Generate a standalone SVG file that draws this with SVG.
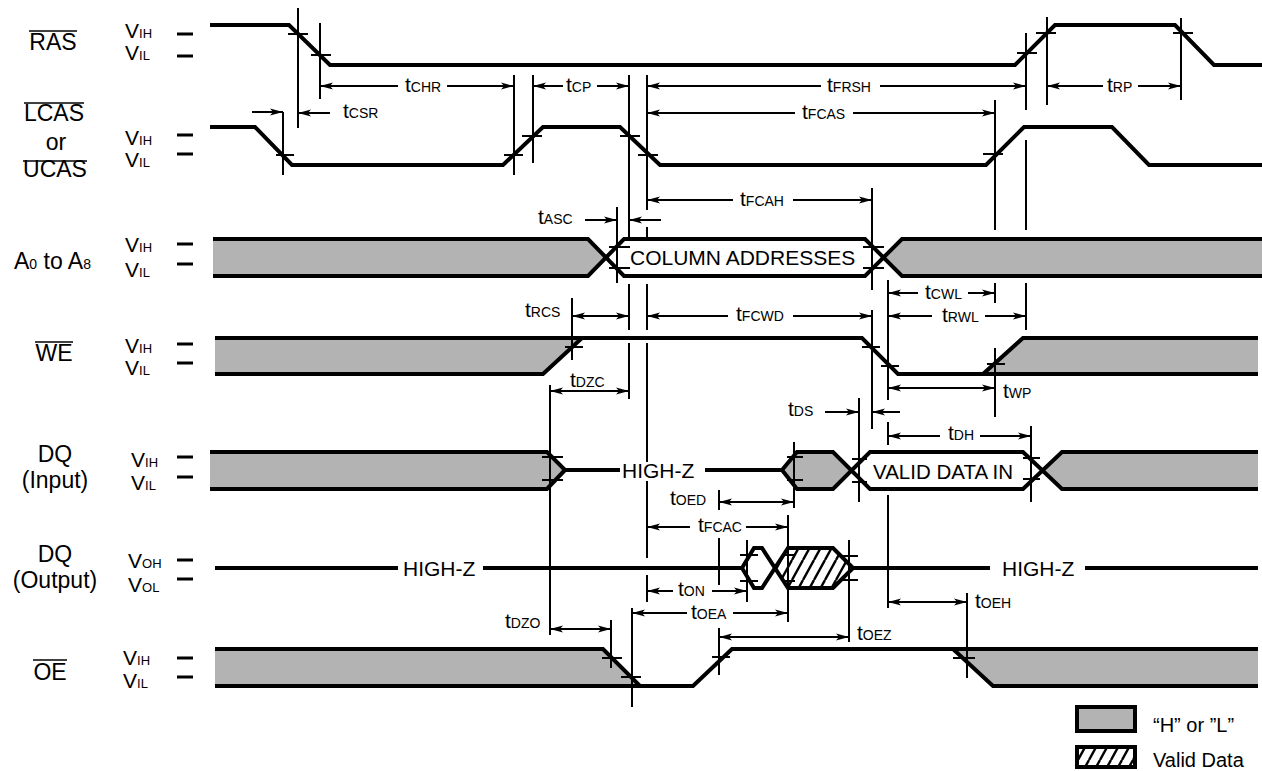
<svg xmlns="http://www.w3.org/2000/svg" width="1262" height="771" viewBox="0 0 1262 771">
<style>
.sig{fill:none;stroke:#000;stroke-width:4;stroke-linejoin:miter;stroke-miterlimit:10}
.th{fill:none;stroke:#000;stroke-width:2}
.dash{fill:none;stroke:#000;stroke-width:3}
.ov{fill:none;stroke:#000;stroke-width:1.6}
.gray{fill:#b3b3b3}
.wh{fill:#fff}
.hat{fill:url(#hatch)}
.ar{fill:none;stroke:#000;stroke-width:2;marker-end:url(#ah)}
.ar2{fill:none;stroke:#000;stroke-width:2;marker-end:url(#ah);marker-start:url(#ah)}
text{font-family:"Liberation Sans",Arial,Helvetica,sans-serif;fill:#000}
.lbl{font-size:23px;text-anchor:middle}
.lbs{font-size:23px}
.t{font-size:21px}
.s{font-size:14px}
.v{font-size:21px}
.vs{font-size:13px}
.big{font-size:21px}
.leg{font-size:20px}
</style>
<defs>
<marker id="ah" markerUnits="userSpaceOnUse" markerWidth="14" markerHeight="8" refX="13" refY="4" orient="auto-start-reverse">
<path d="M0,0.5 L13,4 L0,7.5 L3,4 Z" fill="#000"/>
</marker>
<pattern id="hatch" patternUnits="userSpaceOnUse" width="11" height="20">
<rect width="11" height="20" fill="#fff"/>
<path d="M0,20 L11,0 M-2,3.6 L0,0 M11,20 L13,16.4" stroke="#000" stroke-width="2.4" fill="none"/>
</pattern>
</defs>
<rect width="1262" height="771" fill="#fff"/>

<g id="labels">
<text class="lbl" x="53" y="50">RAS</text><path class="ov" d="M29,31 H77"/>
<text class="lbl" x="54" y="121">LCAS</text><path class="ov" d="M24,103 H84"/>
<text class="lbl" x="56" y="150">or</text>
<text class="lbl" x="55" y="177">UCAS</text><path class="ov" d="M23,161 H87"/>
<text class="lbs" x="14" y="269">A<tspan class="s">0</tspan> to A<tspan class="s">8</tspan></text>
<text class="lbl" x="54" y="361">WE</text><path class="ov" d="M35,342 H73"/>
<text class="lbl" x="55" y="462">DQ</text>
<text class="lbl" x="55" y="488">(Input)</text>
<text class="lbl" x="55" y="562">DQ</text>
<text class="lbl" x="55" y="588">(Output)</text>
<text class="lbl" x="50" y="680">OE</text><path class="ov" d="M33,660 H67"/>

<text class="v" x="125" y="38">V<tspan class="vs">IH</tspan></text>
<text class="v" x="125" y="60">V<tspan class="vs">IL</tspan></text>
<text class="v" x="125" y="145">V<tspan class="vs">IH</tspan></text>
<text class="v" x="125" y="167">V<tspan class="vs">IL</tspan></text>
<text class="v" x="125" y="252">V<tspan class="vs">IH</tspan></text>
<text class="v" x="125" y="277">V<tspan class="vs">IL</tspan></text>
<text class="v" x="125" y="353">V<tspan class="vs">IH</tspan></text>
<text class="v" x="125" y="375">V<tspan class="vs">IL</tspan></text>
<text class="v" x="131" y="467">V<tspan class="vs">IH</tspan></text>
<text class="v" x="131" y="490">V<tspan class="vs">IL</tspan></text>
<text class="v" x="128" y="568">V<tspan class="vs">OH</tspan></text>
<text class="v" x="128" y="592">V<tspan class="vs">OL</tspan></text>
<text class="v" x="123" y="665">V<tspan class="vs">IH</tspan></text>
<text class="v" x="123" y="688">V<tspan class="vs">IL</tspan></text>
<path class="dash" d="M177,34 H193 M177,56 H193 M177,135 H193 M177,154 H193 M177,244 H193 M177,264 H193 M177,344 H193 M177,363 H193 M177,457 H193 M177,477 H193 M177,560 H193 M177,579 H193 M177,658 H193 M177,677 H193"/>
</g>

<g id="ras">
<path class="sig" d="M210,25 H289 L330,65 H1015 L1055,25 H1175 L1214,65 H1262"/>
<path class="th" d="M288,34 h20 M311,55 h20 M1017,53 h20 M1036,33 h20 M1173,33 h20"/>
</g>

<g id="cas">
<path class="sig" d="M210,127 H255 L292,165 H503 L543,127 H620 L660,165 H986 L1024,127 H1112 L1149,165 H1262"/>
<path class="th" d="M276,155 h18 M504,155 h19 M522,136 h20 M620,136 h20 M638,155 h20 M983,154 h20"/>
</g>

<g id="addr">
<polygon class="gray" points="213,239 588,239 606,257.5 588,276 213,276"/>
<polygon class="wh" points="606,257.5 624,239 865,239 883.5,257.5 865,276 624,276"/>
<polygon class="gray" points="883.5,257.5 902,239 1262,239 1262,276 902,276"/>
<path class="sig" d="M213,239 H588 L624,276 H865 L902,239 H1262 M213,276 H588 L624,239 H865 L902,276 H1262"/>
<path class="th" d="M609,247 h21 M609,268 h21 M863,247 h21 M863,268 h21"/>
<text class="big" x="630" y="265">COLUMN ADDRESSES</text>
</g>

<g id="we">
<polygon class="gray" points="215,338 582,338 543,374 215,374"/>
<polygon class="gray" points="983,374 1023,338 1258,338 1258,374"/>
<path class="sig" d="M215,338 H862 L898,374 H1258 M215,374 H543 L582,338 M983,374 L1023,338 H1258"/>
<path class="th" d="M565,347 h18 M862,347 h18 M881,366 h18 M987,364 h18"/>
</g>

<g id="dqin">
<polygon class="gray" points="210,452 547,452 565,470 547,489 210,489"/>
<polygon class="gray" points="782,470 797,452 833,452 851.5,470 833,489 797,489"/>
<polygon class="wh" points="851.5,470 870,452 1023,452 1042.5,470 1023,489 870,489"/>
<polygon class="gray" points="1042.5,470 1062,452 1258,452 1258,489 1062,489"/>
<path class="sig" d="M210,452 H547 L565,470 H620 M210,489 H547 L565,470 M705,470 H782 L797,452 H833 L870,489 H1023 L1062,452 H1258 M782,470 L797,489 H833 L870,452 H1023 L1062,489 H1258"/>
<path class="th" d="M542,457 h21 M542,480 h21 M787,457 h16 M787,480 h16 M852,459 h15 M852,482 h15 M1023,458 h17 M1023,479 h17"/>
<text class="big" x="622" y="478">HIGH-Z</text>
<text class="big" x="873" y="479" style="font-size:20.5px">VALID DATA IN</text>
</g>

<g id="dqout">
<polygon class="hat" points="775,568 788,548 833,548 853,568 833,588 788,588"/>
<path class="sig" d="M215,568 H398 M483,568 H742 L754,548 H762 L788,588 H833 L853,568 H990 M742,568 L754,588 H762 L788,548 H833 L853,568 M1085,568 H1258"/>
<path class="th" d="M740,555 h18 M740,581 h18 M782,555 h13 M782,581 h13 M840,556 h18 M840,580 h18"/>
<text class="big" x="403" y="576">HIGH-Z</text>
<text class="big" x="1002" y="576">HIGH-Z</text>
</g>

<g id="oe">
<polygon class="gray" points="215,649 603,649 640,686 215,686"/>
<polygon class="gray" points="953,649 1258,649 1258,686 993,686"/>
<path class="sig" d="M215,649 H603 L640,686 H693 L732,649 H953 L993,686 H1258 M215,686 H640 M953,649 H1258"/>
<path class="th" d="M602,658 h20 M621,677 h20 M712,657 h18 M953,658 h22"/>
</g>

<g id="legend">
<rect class="gray" x="1077" y="707" width="58" height="24" stroke="#000" stroke-width="4"/>
<text class="leg" x="1153" y="732">“H” or ”L”</text>
<rect class="hat" x="1077" y="747" width="58" height="20" stroke="#000" stroke-width="4"/>
<text class="leg" x="1153" y="767">Valid Data</text>
</g>

<g id="connectors">
<path class="th" d="M298,8 V128 M320,23 V99 M283,112 V175 M514,75 V175 M533,75 V163
M629,75 V237 M629,284 V330 M629,343 V399
M647,75 V210 M647,227 V237 M647,284 V330 M647,343 V462 M647,481 V558 M647,575 V602
M572,298 V360 M617,207 V283 M872,188 V290 M872,310 V429
M888,280 V400 M888,422 V445 M888,495 V608
M995,100 V230 M995,283 V303 M995,348 V417
M1026,33 V110 M1026,140 V230 M1026,283 V330
M1047,17 V105 M1181,18 V100 M550,385 V635 M794,442 V508
M719,490 V510 M719,538 V585 M719,628 V675
M788,515 V622 M747,540 V602 M849,540 V642 M859,398 V502 M1031,426 V502
M632,608 V707 M611,620 V668 M967,593 V678"/>

<path class="ar" d="M398,86 H320"/><path class="ar" d="M447,86 H514"/>
<path class="ar" d="M563,86 H533"/><path class="ar" d="M597,86 H629"/>
<path class="ar" d="M821,86 H647"/><path class="ar" d="M880,86 H1026"/>
<path class="ar" d="M1103,86 H1047"/><path class="ar" d="M1138,86 H1181"/>
<path class="ar" d="M252,112 H283"/><path class="ar" d="M330,113 H298"/>
<path class="ar" d="M795,113 H647"/><path class="ar" d="M853,113 H995"/>
<path class="ar" d="M733,200 H647"/><path class="ar" d="M793,200 H872"/>
<path class="ar" d="M585,220 H617"/><path class="ar" d="M661,220 H629"/>
<path class="ar2" d="M572,316 H629"/>
<path class="ar" d="M728,316 H647"/><path class="ar" d="M793,316 H872"/>
<path class="ar" d="M918,293 H888"/><path class="ar" d="M968,293 H995"/>
<path class="ar" d="M932,316 H888"/><path class="ar" d="M985,316 H1026"/>
<path class="ar2" d="M550,391 H629"/>
<path class="ar2" d="M888,388 H995"/>
<path class="ar" d="M825,412 H859"/><path class="ar" d="M900,412 H872"/>
<path class="ar" d="M940,436 H888"/><path class="ar" d="M980,436 H1031"/>
<path class="ar2" d="M719,502 H794"/>
<path class="ar" d="M690,527 H647"/><path class="ar" d="M746,527 H788"/>
<path class="ar" d="M673,591 H647"/><path class="ar" d="M712,591 H747"/>
<path class="ar" d="M687,613 H632"/><path class="ar" d="M733,613 H788"/>
<path class="ar2" d="M550,629 H611"/>
<path class="ar2" d="M719,637 H849"/>
<path class="ar2" d="M888,602 H967"/>

<text class="t" x="405" y="92">t<tspan class="s">CHR</tspan></text>
<text class="t" x="566" y="92">t<tspan class="s">CP</tspan></text>
<text class="t" x="827" y="92">t<tspan class="s">FRSH</tspan></text>
<text class="t" x="1107" y="92">t<tspan class="s">RP</tspan></text>
<text class="t" x="343" y="118">t<tspan class="s">CSR</tspan></text>
<text class="t" x="802" y="119">t<tspan class="s">FCAS</tspan></text>
<text class="t" x="740" y="206">t<tspan class="s">FCAH</tspan></text>
<text class="t" x="538" y="224">t<tspan class="s">ASC</tspan></text>
<text class="t" x="525" y="317">t<tspan class="s">RCS</tspan></text>
<text class="t" x="736" y="321">t<tspan class="s">FCWD</tspan></text>
<text class="t" x="925" y="299">t<tspan class="s">CWL</tspan></text>
<text class="t" x="942" y="322">t<tspan class="s">RWL</tspan></text>
<text class="t" x="570" y="387">t<tspan class="s">DZC</tspan></text>
<text class="t" x="1003" y="398">t<tspan class="s">WP</tspan></text>
<text class="t" x="788" y="416">t<tspan class="s">DS</tspan></text>
<text class="t" x="948" y="440">t<tspan class="s">DH</tspan></text>
<text class="t" x="670" y="505">t<tspan class="s">OED</tspan></text>
<text class="t" x="698" y="532">t<tspan class="s">FCAC</tspan></text>
<text class="t" x="678" y="596">t<tspan class="s">ON</tspan></text>
<text class="t" x="691" y="619">t<tspan class="s">OEA</tspan></text>
<text class="t" x="505" y="628">t<tspan class="s">DZO</tspan></text>
<text class="t" x="857" y="640">t<tspan class="s">OEZ</tspan></text>
<text class="t" x="975" y="608">t<tspan class="s">OEH</tspan></text>
</g>
</svg>
